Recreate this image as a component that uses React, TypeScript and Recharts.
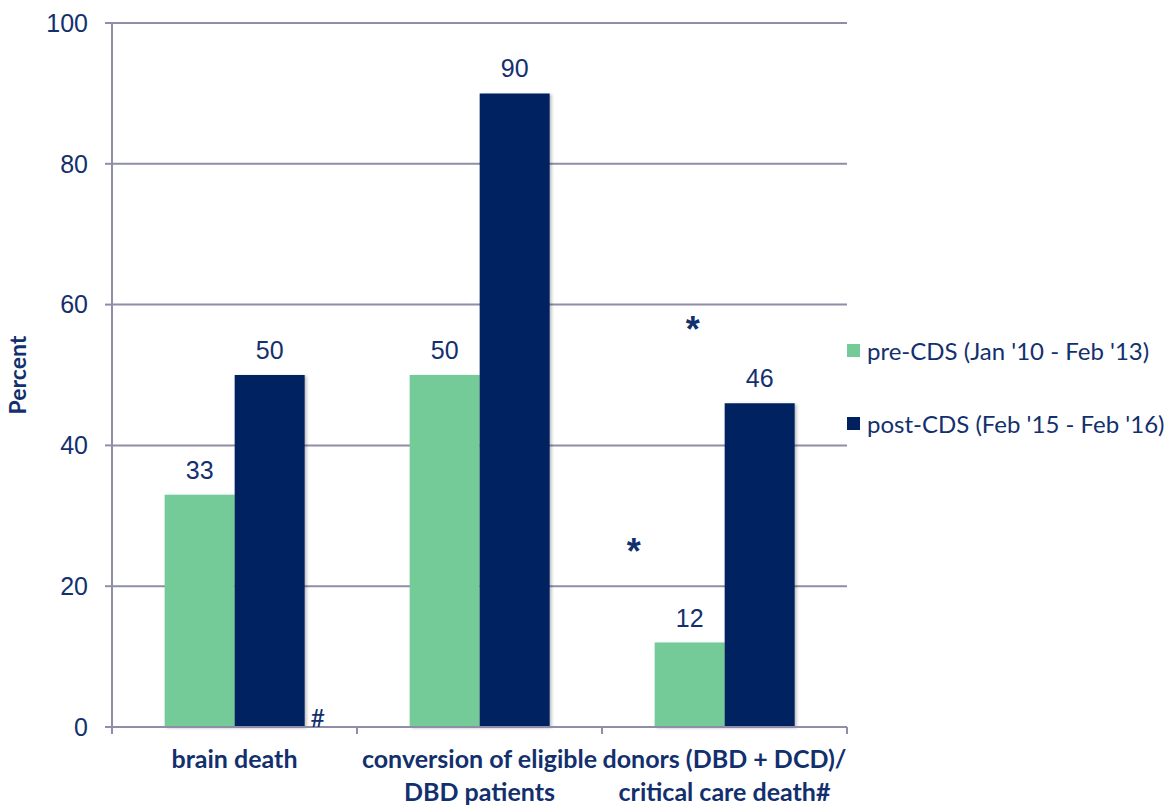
import React from 'react';
import { ComposedChart, Bar, XAxis, YAxis, CartesianGrid, LabelList, ReferenceDot } from 'recharts';

// Outcome measures, before and after the CDS programme (percent)
const categories = ['brain death', 'conversion of eligible\nDBD patients', 'donors (DBD + DCD)/\ncritical care death#'];
const preCDS = [33, 50, 12];
const postCDS = [50, 90, 46];
const yTicks = [0, 20, 40, 60, 80, 100];
const bandTicks = [0, 1, 2, 3];
const seriesNames = ["pre-CDS (Jan '10 - Feb '13)", "post-CDS (Feb '15 - Feb '16)"];

// Significance marks, placed on the numeric [0, 3] band axis
const marks = [
  { x: 2.37, y: 56.5, text: '*' },
  { x: 2.13, y: 25, text: '*' },
  { x: 0.84, y: 1.2, text: '#' },
];

const GREEN = '#74CB97';
const NAVY = '#002060';
const TEXT = '#13306E';
const GRID = '#8E8EA8';
const LABEL_FONT = "Lato, 'Open Sans', sans-serif";
const NUM_FONT = "'Liberation Sans', Arial, sans-serif";

// band: centre of each category on a continuous [0, 3] scale
const data = categories.map((c, i) => ({ name: c, band: i + 0.5, pre: preCDS[i], post: postCDS[i] }));

const CategoryTick = (props: any) => {
  const { x, y, payload } = props;
  const lines = String(payload.value).split('\n');
  return (
    <text x={x} y={y} textAnchor="middle" fill={TEXT} fontFamily={LABEL_FONT} fontWeight={700} fontSize={25}>
      {lines.map((l: string, i: number) => (
        <tspan key={i} x={x} dy={i === 0 ? 25 : 33}>{l}</tspan>
      ))}
    </text>
  );
};

const LegendBox = () => (
  <div style={{ position: 'absolute', left: 847, top: 335, fontFamily: LABEL_FONT, fontSize: 24, color: TEXT }}>
    {[GREEN, NAVY].map((col, i) => (
      <div key={i} style={{ display: 'flex', alignItems: 'center', height: 30, marginBottom: i === 0 ? 43 : 0, whiteSpace: 'nowrap' }}>
        <span style={{ display: 'inline-block', width: 13, height: 13, background: col, marginRight: 7 }} />
        <span>{seriesNames[i]}</span>
      </div>
    ))}
  </div>
);

export default function App() {
  return (
    <div style={{ position: 'absolute', left: 0, top: 0, width: 1169, height: 805 }}>
      <ComposedChart width={1169} height={805} data={data} margin={{ top: 23, right: 322, bottom: 0, left: 52 }} barGap={0} barCategoryGap="21.5%">
        <defs>
          <filter id="barShadow" x="-10%" y="-10%" width="130%" height="130%">
            <feDropShadow dx="2" dy="1" stdDeviation="1.5" floodColor="#000" floodOpacity="0.25" />
          </filter>
        </defs>
        <CartesianGrid vertical={false} stroke={GRID} strokeWidth={2} />
        <XAxis xAxisId="band" dataKey="band" type="number" domain={[0, 3]} allowDataOverflow ticks={bandTicks} interval={0} height={8} tickSize={7}
          axisLine={{ stroke: GRID, strokeWidth: 2 }} tickLine={{ stroke: GRID, strokeWidth: 2 }} tick={() => <g />} />
        <XAxis xAxisId="cat" dataKey="name" height={70} axisLine={false} tickLine={false} tick={<CategoryTick />} interval={0} />
        <YAxis width={60} domain={[0, 100]} ticks={yTicks} tickSize={7} tickMargin={17}
          axisLine={{ stroke: GRID, strokeWidth: 2 }} tickLine={{ stroke: GRID, strokeWidth: 2 }}
          tick={{ fill: TEXT, fontSize: 25, fontFamily: NUM_FONT }}
          label={{ value: 'Percent', angle: -90, position: 'center', dx: -64, fill: TEXT, fontSize: 23, fontWeight: 700, fontFamily: LABEL_FONT }} />
        <Bar xAxisId="cat" dataKey="pre" name={seriesNames[0]} fill={GREEN} isAnimationActive={false} filter="url(#barShadow)">
          <LabelList dataKey="pre" position="top" offset={16} fill={TEXT} fontSize={25} fontFamily={NUM_FONT} />
        </Bar>
        <Bar xAxisId="cat" dataKey="post" name={seriesNames[1]} fill={NAVY} isAnimationActive={false} filter="url(#barShadow)">
          <LabelList dataKey="post" position="top" offset={16} fill={TEXT} fontSize={25} fontFamily={NUM_FONT} />
        </Bar>
        {marks.map((m, i) => (
          <ReferenceDot key={i} xAxisId="band" x={m.x} y={m.y} r={0} stroke="none" fill="none" ifOverflow="visible"
            label={{ value: m.text, position: 'center', fill: TEXT, fontSize: m.text === '*' ? 36 : 25, fontWeight: m.text === '*' ? 700 : 400, fontFamily: m.text === '*' ? NUM_FONT : LABEL_FONT }} />
        ))}
      </ComposedChart>
      <LegendBox />
    </div>
  );
}
